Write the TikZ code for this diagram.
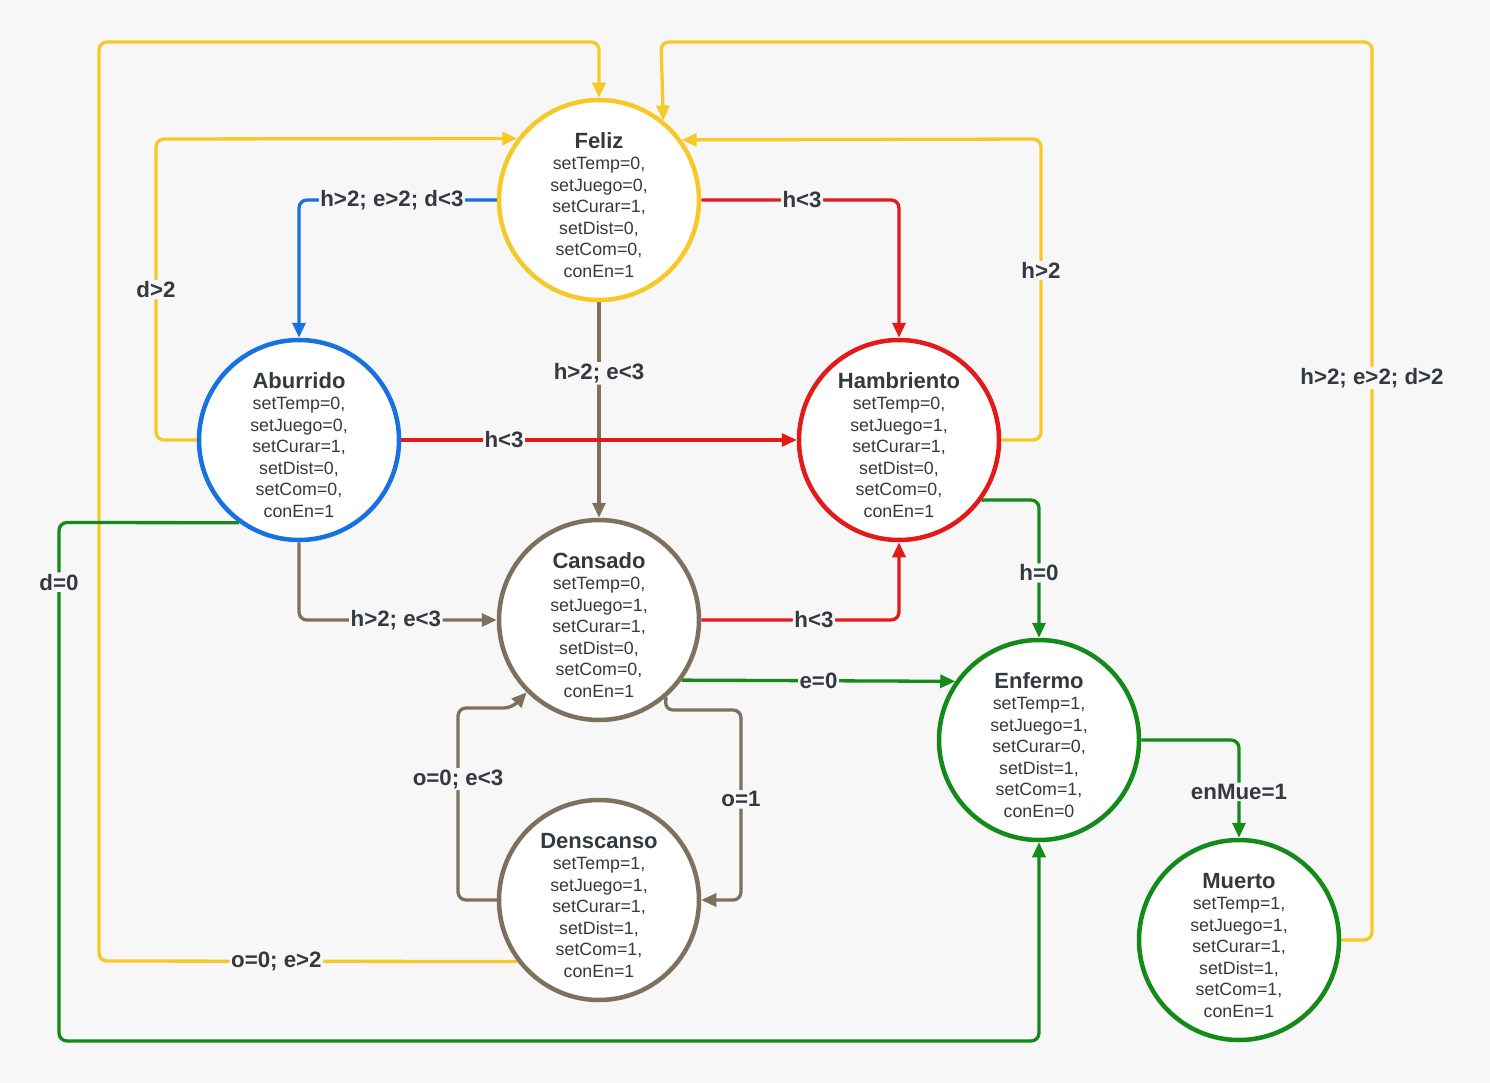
\documentclass[tikz,border=0pt]{standalone}
\usepackage{fontspec}
\setmainfont{Liberation Sans}
\usetikzlibrary{arrows.meta}
\definecolor{cbg}{HTML}{F7F7F7}
\definecolor{ctext}{HTML}{343940}
\definecolor{cyellow}{HTML}{F7C928}
\definecolor{cblue}{HTML}{1871E0}
\definecolor{cred}{HTML}{E21A1A}
\definecolor{cbrown}{HTML}{7D705C}
\definecolor{cgreen}{HTML}{138A1A}
% state title, with a strut that lowers the text block a little
\newcommand\sttitle[1]{{\rule{0pt}{26pt}\fontsize{22}{24}\selectfont\bfseries #1}}
\pgfdeclarelayer{bg}
\pgfsetlayers{bg,main}
\begin{document}
\begin{tikzpicture}[x=1pt,y=-1pt,
  state/.style={circle, draw, line width=4.5pt, fill=white, minimum size=200pt,
    inner sep=0pt, align=center, text=ctext, font=\fontsize{17.8}{21.5}\selectfont},
  link/.style={line width=3.3pt, rounded corners=8pt, -{Triangle[length=15pt,width=13pt]}},
  lbl/.style={fill=cbg, inner sep=1.5pt, text=ctext, font=\bfseries\fontsize{22.3}{24}\selectfont}]
\useasboundingbox (0,0) rectangle (1490,1083);

% states
\node[state, draw=cyellow] (feliz) at (599,200) {\sttitle{Feliz}\\ setTemp=0,\\ setJuego=0,\\ setCurar=1,\\ setDist=0,\\ setCom=0,\\ conEn=1};
\node[state, draw=cblue] (aburrido) at (299,440) {\sttitle{Aburrido}\\ setTemp=0,\\ setJuego=0,\\ setCurar=1,\\ setDist=0,\\ setCom=0,\\ conEn=1};
\node[state, draw=cred] (hamb) at (899,440) {\sttitle{Hambriento}\\ setTemp=0,\\ setJuego=1,\\ setCurar=1,\\ setDist=0,\\ setCom=0,\\ conEn=1};
\node[state, draw=cbrown] (cansado) at (599,620) {\sttitle{Cansado}\\ setTemp=0,\\ setJuego=1,\\ setCurar=1,\\ setDist=0,\\ setCom=0,\\ conEn=1};
\node[state, draw=cgreen] (enfermo) at (1039,740) {\sttitle{Enfermo}\\ setTemp=1,\\ setJuego=1,\\ setCurar=0,\\ setDist=1,\\ setCom=1,\\ conEn=0};
\node[state, draw=cbrown] (densc) at (599,900) {\sttitle{Denscanso}\\ setTemp=1,\\ setJuego=1,\\ setCurar=1,\\ setDist=1,\\ setCom=1,\\ conEn=1};
\node[state, draw=cgreen] (muerto) at (1239,940) {\sttitle{Muerto}\\ setTemp=1,\\ setJuego=1,\\ setCurar=1,\\ setDist=1,\\ setCom=1,\\ conEn=1};

\begin{pgfonlayer}{bg}
\fill[cbg] (0,0) rectangle (1490,1083);

% transitions back to Feliz
\draw[link, cyellow] (aburrido.west) -- (156,440) -- node[lbl, pos=0.5]{d>2} (156,139) -- (feliz.143.13);
\draw[link, cyellow] (hamb.east) -- (1041,440) -- node[lbl, pos=0.563]{h>2} (1041,139) -- (feliz.36.87);
\draw[link, cyellow] (densc.-143.13) -- node[lbl, pos=0.576]{o=0; e>2} (99,961) -- (99,42) -- (599,42) -- (feliz.north);
\draw[link, cyellow] (muerto.east) -- (1372,940) -- node[lbl, pos=0.626]{h>2; e>2; d>2} (1372,42) -- (661,42) -- (feliz.51.7);

% transitions out of Feliz
\draw[link, cblue] (feliz.west) -- node[lbl, pos=0.53]{h>2; e>2; d<3} (299,200) -- (aburrido.north);
\draw[link, cred] (feliz.east) -- node[lbl, pos=0.51]{h<3} (899,200) -- (hamb.north);
\draw[link, cbrown] (feliz.south) -- node[lbl, pos=0.33]{h>2; e<3} (cansado.north);

% Aburrido
\draw[link, cred] (aburrido.east) -- node[lbl, pos=0.26]{h<3} (hamb.west);
\draw[link, cbrown] (aburrido.south) -- (299,620) -- node[lbl, pos=0.49]{h>2; e<3} (cansado.west);
\draw[link, cgreen] (aburrido.-126.2) -- (59,522.5) -- node[lbl, pos=0.115]{d=0} (59,1041) -- (1039,1041) -- (enfermo.south);

% Cansado
\draw[link, cred] (cansado.east) -- node[lbl, pos=0.57]{h<3} (899,620) -- (hamb.south);
\draw[link, cgreen] (cansado.-36.87) -- node[lbl, pos=0.5]{e=0} (enfermo.145.04);
\draw[link, cbrown] (cansado.-49.5) -- (665,710) -- (741,710) -- node[lbl, pos=0.47]{o=1} (741,900) -- (densc.east);

% Denscanso
\draw[link, cbrown] (densc.west) -- (458,900) -- node[lbl, pos=0.63]{o=0; e<3} (458,708) -- (512,708) -- (cansado.-135.4);

% Hambriento and Enfermo
\draw[link, cgreen] (hamb.-36) -- (1039,500) -- node[lbl, pos=0.53]{h=0} (enfermo.north);
\draw[link, cgreen] (enfermo.east) -- (1239,740) -- node[lbl, pos=0.53]{enMue=1} (muerto.north);
\end{pgfonlayer}
\end{tikzpicture}
\end{document}
